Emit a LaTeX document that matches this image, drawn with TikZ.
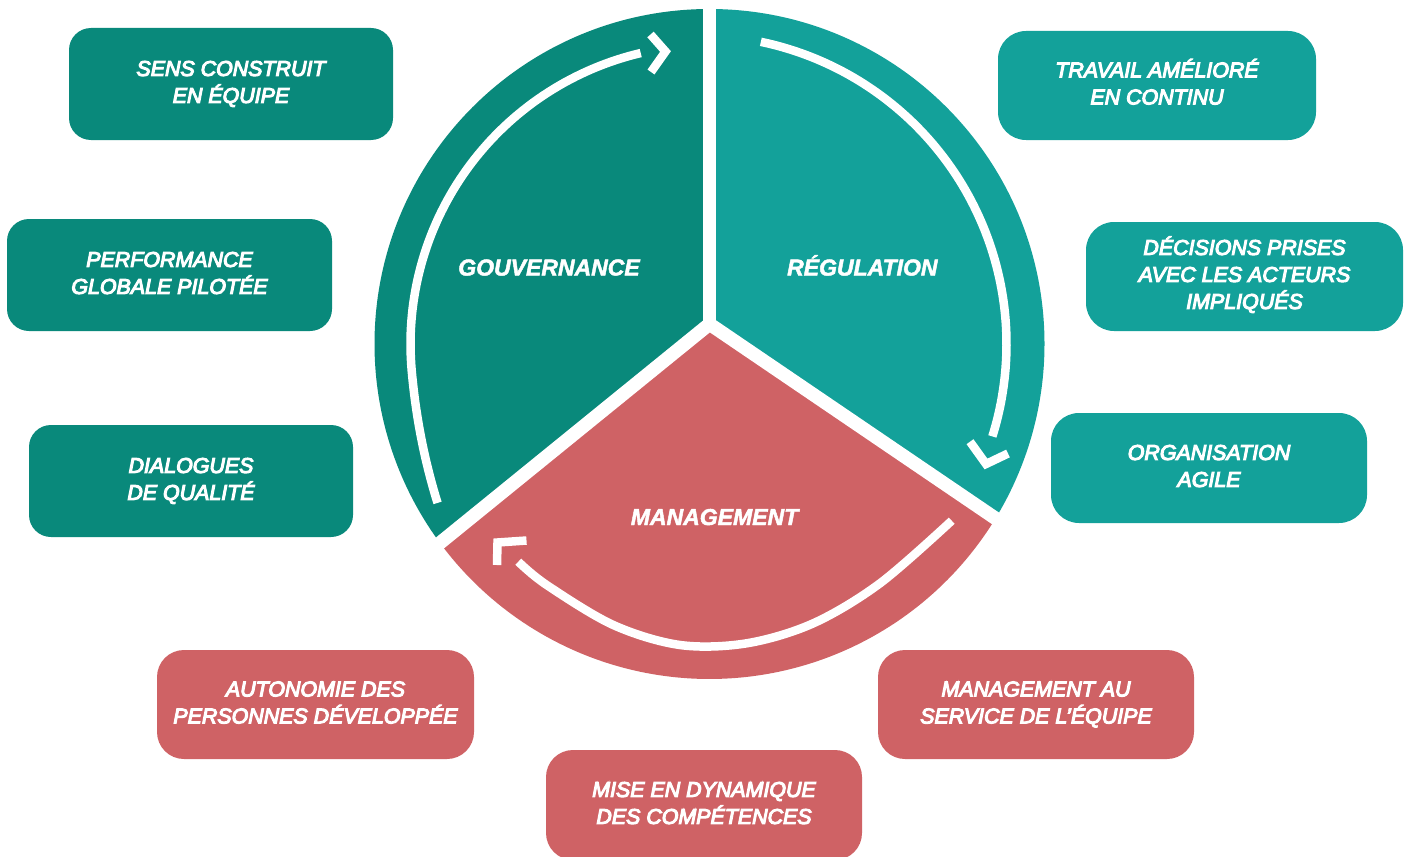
\documentclass[tikz,border=0pt]{standalone}
\usepackage{fontspec}
\setmainfont{Liberation Sans}
\newfontface\cardface{Liberation Sans Italic}[FakeBold=5]
\newfontface\sectorface{Liberation Sans Bold Italic}[FakeBold=2]
\usetikzlibrary{calc}
\definecolor{govteal}{HTML}{09897B}
\definecolor{regteal}{HTML}{13A19A}
\definecolor{mgmtred}{HTML}{CF6265}

\begin{document}
\begin{tikzpicture}[x=1pt, y=-1pt,
  declare function={
    rgov(\qq)=299+0.025*max(0,-185-(\qq))*max(0,-185-(\qq));
  },
  card/.style={inner sep=0pt, text=white, font=\cardface\fontsize{21.4}{27}\selectfont},
  sector/.style={anchor=base, inner sep=0pt, text=white, font=\sectorface\fontsize{23}{27}\selectfont},
  spoke/.style={draw=white, line width=13.5},
  flow/.style={draw=white, line width=8.5},
  chevron/.style={draw=white, line width=8.5, miter limit=10},
]
\useasboundingbox (0,0) rectangle (1407,856);

% --- the wheel: circle centre, meeting point of the dividers, divider ends
\coordinate (C) at (709.5,344);
\coordinate (P) at (709.5,324);
\coordinate (T) at (709.5,9);
\coordinate (L) at ($(C)+(143.57:335)$);
\coordinate (Rt) at ($(C)+(31.37:335)$);

\fill[govteal] (P) -- (T) arc[start angle=-90, end angle=-216.43, radius=335] -- cycle;
\fill[regteal] (P) -- (T) arc[start angle=-90, end angle=31.37, radius=335] -- cycle;
\fill[mgmtred] (P) -- (Rt) arc[start angle=31.37, end angle=143.57, radius=335] -- cycle;

\draw[spoke] (P) -- ($(P)!1.08!(T)$);
\draw[spoke] (P) -- ($(P)!1.08!(L)$);
\draw[spoke] (P) -- ($(P)!1.08!(Rt)$);

% --- circulating arrows
\draw[flow] plot[domain=-210.3:-103.3, samples=90, variable=\t]
  ({709.5+rgov(\t)*cos(\t)}, {344+rgov(\t)*sin(\t)});
\draw[chevron] (650.5,34.5) -- (665.5,51.5) -- (651,72);

\draw[flow] plot[domain=-78.2:17.4, samples=90, variable=\t]
  ({697.7+308.8*cos(\t)}, {344.1+308.8*sin(\t)});
\draw[chevron] (970,441.7) -- (986,464) -- (1008,453.5);

\draw[flow] plot[smooth, tension=0.55] coordinates {
  (951.7,520.7) (880,583.3) (813.3,623.3) (746.7,643.3)
  (680,645) (613.3,625) (546.7,585) (518.3,561.7)};
\draw[chevron] (526.5,540.5) -- (497.5,542.5) -- (497,565);

% --- sector titles
\node[sector] (gouv) at (549,275.5) {GOUVERNANCE};
\node[sector] (regu) at (862.3,275.5) {RÉGULATION};
\node[sector] (mgmt) at (714.5,525) {MANAGEMENT};

% --- outcome cards
\node[card, fill=govteal, rounded corners=22, minimum width=324, minimum height=112] (sens) at (231,84)
  {\begin{tabular}{@{}c@{}}SENS CONSTRUIT\\EN ÉQUIPE\end{tabular}};
\node[card, fill=govteal, rounded corners=22, minimum width=325, minimum height=112] (perf) at (169.5,275)
  {\begin{tabular}{@{}c@{}}PERFORMANCE\\GLOBALE PILOTÉE\end{tabular}};
\node[card, fill=govteal, rounded corners=22, minimum width=324, minimum height=112] (dial) at (191,481)
  {\begin{tabular}{@{}c@{}}DIALOGUES\\DE QUALITÉ\end{tabular}};

\node[card, fill=regteal, rounded corners=28, minimum width=318, minimum height=109] (trav) at (1157,85.5)
  {\begin{tabular}{@{}c@{}}TRAVAIL AMÉLIORÉ\\EN CONTINU\end{tabular}};
\node[card, fill=regteal, rounded corners=28, minimum width=317, minimum height=109] (deci) at (1244.5,276.5)
  {\begin{tabular}{@{}c@{}}DÉCISIONS PRISES\\AVEC LES ACTEURS\\IMPLIQUÉS\end{tabular}};
\node[card, fill=regteal, rounded corners=28, minimum width=316, minimum height=110] (orga) at (1209,468)
  {\begin{tabular}{@{}c@{}}ORGANISATION\\AGILE\end{tabular}};

\node[card, fill=mgmtred, rounded corners=27, minimum width=317, minimum height=109] (auto) at (315.5,704.5)
  {\begin{tabular}{@{}c@{}}AUTONOMIE DES\\PERSONNES DÉVELOPPÉE\end{tabular}};
\node[card, fill=mgmtred, rounded corners=27, minimum width=316, minimum height=109] (mana) at (1036,704.5)
  {\begin{tabular}{@{}c@{}}MANAGEMENT AU\\SERVICE DE L’ÉQUIPE\end{tabular}};
\node[card, fill=mgmtred, rounded corners=27, minimum width=316, minimum height=110] (mise) at (704,805)
  {\begin{tabular}{@{}c@{}}MISE EN DYNAMIQUE\\DES COMPÉTENCES\end{tabular}};
\end{tikzpicture}
\end{document}
